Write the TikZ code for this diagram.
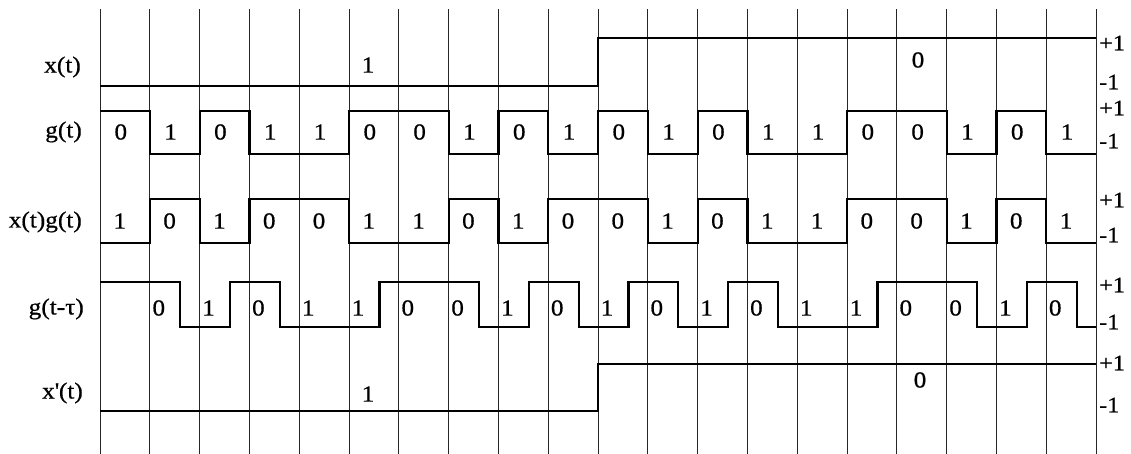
\documentclass[tikz,border=0pt]{standalone}
\usepackage{fontspec}
\setmainfont{Liberation Serif}[FakeStretch=1.1, FakeBold=0.6]

\tikzset{
  gridline/.style={line width=0.8pt, black!85},
  wave/.style={line width=2.2pt},
  rowname/.style={anchor=east, inner sep=0pt, font=\fontsize{23}{26}\selectfont},
  chip/.style={inner sep=0pt, font=\fontsize{23}{26}\selectfont},
  lvl/.style={anchor=west, inner sep=0pt, font=\fontsize{22}{26}\selectfont}
}

\begin{document}
\begin{tikzpicture}[x=1pt, y=-1pt, line join=miter]
  \useasboundingbox (0,0) rectangle (1131,454);
  % chip grid
  \foreach \k in {0,...,20}
    \draw[gridline] ({100+49.8*\k},9) -- ({100+49.8*\k},454);

  % row names
  \node[rowname] (xt)  at (81,67)  {x(t)};
  \node[rowname] (gt)  at (82,132) {g(t)};
  \node[rowname] (xg)  at (82,222) {x(t)g(t)};
  \node[rowname] (gd)  at (84,309) {g(t-τ)};
  \node[rowname] (xr)  at (83,393) {x\textquotesingle(t)};

  % x(t)
  \draw[wave] (100,86) -- (598,86) |- (1096,38);
  \node[chip] (xone)  at (368,65) {1};
  \node[chip] (xzero) at (918,60) {0};

  % g(t)
  \draw[wave] (100,111) \foreach \b [count=\i] in {0,1,0,1,1,0,0,1,0,1,0,1,0,1,1,0,0,1,0,1}
    { |- ({100+49.8*\i},{111+43*\b}) };
  \foreach \b [count=\i] in {0,1,0,1,1,0,0,1,0,1,0,1,0,1,1,0,0,1,0,1}
    \node[chip] (g\i) at ({100+49.8*\i-29},132) {\b};

  % x(t)g(t)
  \draw[wave] (100,243) \foreach \b [count=\i] in {1,0,1,0,0,1,1,0,1,0,0,1,0,1,1,0,0,1,0,1}
    { |- ({100+49.8*\i},{199+44*\b}) };
  \foreach \b [count=\i] in {1,0,1,0,0,1,1,0,1,0,0,1,0,1,1,0,0,1,0,1}
    \node[chip] (p\i) at ({100+49.8*\i-30},221) {\b};

  % g(t-tau)
  \draw[wave] (100,282) \foreach \b [count=\i] in {0,1,0,1,1,0,0,1,0,1,0,1,0,1,1,0,0,1,0}
    { |- ({130.5+49.8*\i},{282+45*\b}) } |- (1096,327);
  \foreach \b [count=\i] in {0,1,0,1,1,0,0,1,0,1,0,1,0,1,1,0,0,1,0}
    \node[chip] (d\i) at ({100+49.8*\i+9},308) {\b};

  % x'(t)
  \draw[wave] (100,411) -- (598,411) |- (1096,364);
  \node[chip] (rone)  at (368,394) {1};
  \node[chip] (rzero) at (920,380) {0};

  % levels
  \foreach \y/\t [count=\j] in {43/+1,82/-1,108/+1,141/-1,200/+1,235/-1,285/+1,322/-1,363/+1,405/-1}
    \node[lvl] (l\j) at (1099,\y) {\t};
\end{tikzpicture}
\end{document}
